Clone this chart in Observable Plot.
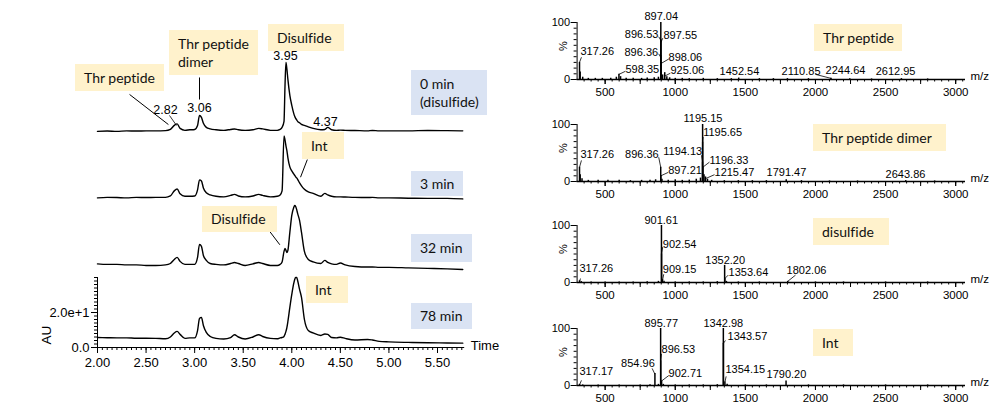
<!DOCTYPE html>
<html><head><meta charset="utf-8">
<script src="https://cdn.jsdelivr.net/npm/d3@7"></script>
<script src="https://cdn.jsdelivr.net/npm/@observablehq/plot@0.6"></script>
<style>
body{margin:0;background:#fff;}
#wrap{position:relative;width:990px;height:403px;overflow:hidden;}
.box{position:absolute;display:flex;align-items:center;box-sizing:border-box;padding-left:9px;font:14px Lato,sans-serif;color:#111;line-height:18px;white-space:pre-line;font-variant-ligatures:none;}
.beige{background:#FFF2CC;}
.blue{background:#DAE3F3;}
</style></head><body><div id="wrap"></div>
<script>
// ---------- Chromatogram data (retention time in min, absorbance in AU) ----------
const times = [2.00,2.10,2.20,2.30,2.40,2.50,2.60,2.70,2.75,2.79,2.82,2.85,2.90,2.95,3.00,3.03,3.05,3.07,3.09,3.12,3.16,3.22,3.30,3.37,3.41,3.45,3.52,3.60,3.66,3.70,3.78,3.85,3.88,3.90,3.92,3.93,3.94,3.95,3.96,3.98,4.00,4.02,4.03,4.04,4.05,4.06,4.08,4.10,4.13,4.17,4.22,4.30,4.34,4.37,4.41,4.46,4.50,4.55,4.65,4.78,4.83,4.90,5.00,5.20,5.40,5.60,5.76];
const au0min = [4.6,4.8,4.6,4.9,4.8,4.9,4.9,5.0, 5.7,8.0,8.9,6.3,5.2,5.5, 5.7,8.0,13.7,12.6,9.2,6.9,6.0,5.5, 5.2,5.7,6.0,5.5,5.2,5.5,6.3,6.0,5.2, 5.2,5.7,6.9,10.3,30.3,44.0,40.0,34.3,25.2, 19.5,14.9,13.2,12.0,11.2,10.3,9.5,8.6,8.0,7.2,6.3, 5.5,5.7,6.9,5.5,5.2,5.3,5.2,5.1,4.9,5.1,4.9, 4.9,4.9,5.1,5.0,4.9];
const au3min = [4.6,4.9,4.8,4.6,4.9,4.8,4.9,4.9, 5.7,8.6,9.7,6.9,5.5,5.5, 5.7,9.2,14.9,14.3,10.3,7.5,6.3,5.5, 5.2,6.0,6.6,5.7,5.2,5.7,6.6,6.0,5.2, 5.5,6.3,8.6,40.0,37.7,34.3,31.5,27.5,22.3, 20.0,18.3,17.5,16.6,16.0,15.2,13.2,11.5,9.5,8.0,7.2, 5.5,7.2,6.3,5.5,5.2,5.2,5.1,4.9,4.8,4.9,4.6, 4.6,4.4,4.3,4.3,4.0];
const au32min = [5.5,5.2,5.2,4.9,4.9,4.6,4.6,4.9, 5.7,8.0,9.2,6.9,5.2,5.2, 5.2,9.2,16.6,15.5,10.3,7.5,5.7,5.2, 4.9,5.7,6.3,5.7,4.6,5.5,6.3,5.7,4.6, 4.6,5.2,6.6,12.6,14.3,13.2,12.0,13.2,23.5, 33.2,37.7,38.9,38.3,36.6,34.3,30.3,23.5,12.6,8.0,6.6, 5.7,7.5,6.3,5.5,5.2,6.0,4.9,4.0,3.7,3.7,3.5, 3.5,3.2,2.9,2.6,2.3];
const au78min = [5.7,5.6,5.5,5.5,5.3,5.3,5.2,5.0, 6.0,8.3,9.2,7.5,5.2,5.5, 5.5,9.7,16.6,17.2,12.6,8.6,6.3,5.2, 4.9,5.7,7.3,6.0,4.9,6.0,7.3,6.3,5.2, 5.0,5.5,5.7,6.3,7.5,9.2,11.5,14.9,22.9, 30.3,36.6,38.9,40.0,40.0,38.3,33.2,28.6,16.0,9.7,8.3, 6.9,7.7,7.5,5.7,5.5,5.9,5.2,4.3,4.6,4.3,3.5, 3.2,2.9,2.7,2.6,2.5];
const traceNames = ["0 min", "3 min", "32 min", "78 min"];
const peakTimes = [2.82, 3.06, 3.95, 4.37];

// ---------- Mass spectra data (m/z, relative intensity %) ----------
const specThr = [[317.26,30],[322,13],[340,4],[380,2],[430,2],[480,2],[540,2],[580,4],[598.35,9],[610,5],[650,2],[700,2],[760,2],[800,2.5],[850,3],[880,4],[896.36,42],[896.53,70],[897.04,100],[897.55,68],[898.06,30],[910,8],[925.06,12],[940,5],[960,3],[1000,2],[1050,2],[1100,1.5],[1200,2],[1300,1.5],[1400,1.5],[1452.54,2.5],[1600,1.5],[1700,1.5],[1800,1.5],[1950,1.5],[2110.85,2],[2244.64,1.5],[2400,1],[2612.95,1.5],[2800,1]];
const specDimer = [[317.26,25],[322,12],[335,5],[380,2],[450,2],[520,2],[600,2],[680,1.5],[760,2],[820,2],[860,3],[896.36,25],[897.21,10],[905,4],[950,2],[1000,3],[1050,2],[1100,2.5],[1150,4],[1180,6],[1194.13,34],[1195.15,100],[1195.65,69],[1196.33,25],[1205,12],[1215.47,8],[1230,4],[1260,2],[1350,1.5],[1450,1.5],[1550,1.5],[1650,1.5],[1791.47,3],[1900,1.5],[2100,1],[2300,1],[2643.86,1.5],[2850,1]];
const specDisulfide = [[317.26,3],[330,1.5],[400,1],[500,1],[600,1],[700,1],[800,1.5],[880,2],[901.61,100],[902.54,50],[909.15,5],[920,2],[1000,1],[1100,1],[1200,1],[1300,1.5],[1352.20,30],[1353.64,7],[1365,2],[1450,1],[1600,1],[1802.06,2],[2000,1],[2200,1],[2500,1],[2800,1]];
const specInt = [[317.17,2],[340,1],[450,1],[600,1],[750,1],[820,1.5],[854.96,21],[880,2],[895.77,100],[896.53,43],[902.71,8],[915,2],[1000,1],[1100,1],[1200,1],[1300,1.5],[1342.98,100],[1343.57,74],[1354.15,6],[1370,2],[1500,1],[1650,1],[1790.20,8],[1950,1],[2200,1],[2500,1],[2800,1]];
const specNames = ["Thr peptide", "Thr peptide dimer", "disulfide", "Int"];

// ---------- Annotation layout (label positions in data units) ----------
// [peak m/z, peak %, label x (m/z), label y (%), anchor, leader start x, leader start y]
const annThr = [[897.04,100,900,111,"middle"],[896.53,69,880,79.5,"end",882,75],[897.55,65,916,78,"start",911,72.5],[896.36,39,878,48,"end",882,45],[898.06,28,952,39,"start",954,36],[317.26,30,324,50,"start",331,39],[598.35,9,645,17.5,"start",645,14.5],[925.06,6,966,16,"start",965,11],[1452.54,2.5,1458,14.5,"middle"],[2110.85,2,1897,14,"middle",2000,9],[2244.64,1.5,2214,16,"middle"],[2612.95,1.5,2571,14,"middle"]];
const annDimer = [[1195.15,100,1198,111,"middle"],[1195.65,69,1199,86,"start",1199,78],[1194.13,34,1192,53.5,"end",1187,46],[1196.33,25,1244,37.5,"start",1244,34],[896.36,25,882,47.5,"end",882,42.5],[897.21,10,950,19.5,"start",950,16],[1215.47,5,1280,15,"start",1280,12],[317.26,25,324,47.5,"start",331,37],[1791.47,3,1793,16,"middle"],[2643.86,1.5,2642,12.5,"middle"]];
const annDisulfide = [[901.61,100,900,108,"middle"],[902.54,50,911,67.5,"start",911,62.5],[909.15,4,911,23.5,"start",918,14.5],[317.26,1,317,25,"start",324,7],[1352.20,30,1356,39,"middle"],[1353.64,7,1380,17,"start",1378,13],[1802.06,2,1936,21.5,"middle",1858,13]];
const annInt = [[895.77,100,900,109,"middle"],[1342.98,100,1343,109,"middle"],[896.53,43,902,64,"start",902,55.5],[854.96,20,854,39.5,"end",835,30],[902.71,8,952,21,"start",954,17.5],[317.17,1,317,24,"start",331,9],[1343.57,74,1373,86,"start",1358,79],[1354.15,6,1358,28,"start",1363,16],[1790.20,8,1793,19.5,"middle"]];

const wrap = document.getElementById("wrap");
const FONT = '"Liberation Sans", Arial, sans-serif';

function place(node, left, top) {
  node.style.position = "absolute";
  node.style.left = left + "px";
  node.style.top = top + "px";
  wrap.appendChild(node);
}

// ---------- Left: stacked chromatograms ----------
const traceOffsets = {"0 min": 118.9, "3 min": 80.9, "32 min": 42.3, "78 min": 0};
const traceValues = [au0min, au3min, au32min, au78min];
const chrom = [];
traceNames.forEach((n, i) => times.forEach((t, j) => chrom.push({trace: n, t, au: traceValues[i][j]})));

const arrows = [
  {x1: 2.33, y1: 144.6, x2: 2.73, y2: 127.4},
  {x1: 3.05, y1: 154.3, x2: 3.05, y2: 141.7},
  {x1: 4.16, y1: 107.4, x2: 4.09, y2: 97.3},
  {x1: 3.75, y1: 68.0, x2: 3.877, y2: 58.7}
];
const peakLabelPos = [[2.70, 136], [3.05, 137.1], [3.935, 166.3], [4.347, 129.1]];
const peakLabels = peakTimes.map((t, i) => ({text: t.toFixed(2), x: peakLabelPos[i][0], y: peakLabelPos[i][1]}));

const left = Plot.plot({
  width: 540, height: 403,
  marginLeft: 97, marginRight: 75.8, marginTop: 4, marginBottom: 56,
  style: {fontFamily: FONT, fontSize: "13px", color: "#000", background: "transparent", overflow: "visible"},
  x: {domain: [2, 5.78]},
  y: {domain: [0, 196]},
  marks: [
    Plot.ruleX([2], {y1: 0, y2: 40, stroke: "#000"}),
    Plot.ruleY([0], {x1: 2, x2: 5.78, stroke: "#000"}),
    Plot.axisX({ticks: d3.range(0, 76).map(i => 2 + i * 0.05), tickSize: 3, text: null, label: null}),
    Plot.axisX({ticks: [2, 2.5, 3, 3.5, 4, 4.5, 5, 5.5], tickSize: 6, tickPadding: 4, tickFormat: d3.format(".2f"), label: null, fontSize: 13}),
    Plot.axisY({ticks: d3.range(0, 41, 2), tickSize: 3, text: null, label: null}),
    Plot.axisY({ticks: [0, 20], tickSize: 6, tickPadding: 2, tickFormat: d => d === 0 ? "0.0" : "2.0e+1", label: null, fontSize: 13}),
    Plot.line(chrom, {x: "t", y: d => d.au + traceOffsets[d.trace], z: "trace", stroke: "#000", strokeWidth: 1.4, curve: "monotone-x"}),
    Plot.link(arrows, {x1: "x1", y1: "y1", x2: "x2", y2: "y2", stroke: "#000", strokeWidth: 1, ariaLabel: "arrow"}),
    Plot.link([{x1: 2.741, y1: 132.6, x2: 2.813, y2: 126.9}], {x1: "x1", y1: "y1", x2: "x2", y2: "y2", stroke: "#000", strokeWidth: 0.8}),
    Plot.text(peakLabels, {x: "x", y: "y", text: "text", fontSize: 12.5, fill: "#000"}),
    Plot.text(["Time"], {frameAnchor: "bottom-right", dx: 6, dy: 2, textAnchor: "start", fontSize: 13, fill: "#000"}),
    Plot.text(["AU"], {frameAnchor: "bottom-left", dx: -47, dy: -3, rotate: -90, fontSize: 13.5, fill: "#000"})
  ]
});
{
  const svg = d3.select(left);
  const m = svg.append("defs").append("marker")
    .attr("id", "ahead").attr("viewBox", "0 0 10 10").attr("refX", 10).attr("refY", 5)
    .attr("markerWidth", 8).attr("markerHeight", 8).attr("markerUnits", "userSpaceOnUse").attr("orient", "auto");
  m.append("path").attr("d", "M0,0L10,5L0,10Z").attr("fill", "#000");
  svg.selectAll('g[aria-label="arrow"] path').attr("marker-end", "url(#ahead)");
}
place(left, 0, 0);

// ---------- Right: mass spectra ----------
function spectrum(sticksArr, annArr) {
  const sticks = sticksArr.map(([mz, pct]) => ({mz, pct}));
  const ann = annArr.map(a => ({mz: a[0], pct: a[1], tx: a[2], ty: a[3], anchor: a[4], lx: a[5], ly: a[6], text: a[0].toFixed(2)}));
  const leaders = ann.filter(a => a.lx !== undefined);
  return Plot.plot({
    width: 470, height: 100,
    marginLeft: 56.6, marginRight: 25, marginTop: 9, marginBottom: 34,
    style: {fontFamily: FONT, fontSize: "11px", color: "#000", background: "transparent", overflow: "visible"},
    x: {domain: [300, 3070]},
    y: {domain: [0, 100]},
    marks: [
      Plot.ruleX(sticks, {x: "mz", y1: 0, y2: "pct", stroke: "#000", strokeWidth: 1.5}),
      Plot.ruleX([300], {y1: 0, y2: 100, stroke: "#000"}),
      Plot.ruleY([0], {x1: 300, x2: 3070, stroke: "#000", strokeWidth: 1.3}),
      Plot.axisY({ticks: d3.range(0, 101, 10), tickSize: 3, text: null, label: null}),
      Plot.axisY({ticks: [0, 100], tickSize: 6, tickPadding: 1, tickFormat: d => String(d), label: null, fontSize: 11}),
      Plot.axisX({ticks: d3.range(350, 3051, 50), tickSize: 2.5, text: null, label: null}),
      Plot.axisX({ticks: d3.range(500, 3001, 250), tickSize: 5, text: null, label: null}),
      Plot.axisX({ticks: d3.range(500, 3001, 500), tickSize: 5, tickPadding: 3, tickFormat: d => String(d), label: null, fontSize: 11.5}),
      Plot.link(leaders, {x1: "lx", y1: "ly", x2: "mz", y2: "pct", stroke: "#000", strokeWidth: 0.8}),
      Plot.text(ann.filter(a => a.anchor === "middle"), {x: "tx", y: "ty", text: "text", textAnchor: "middle", fontSize: 11, fill: "#000"}),
      Plot.text(ann.filter(a => a.anchor === "start"), {x: "tx", y: "ty", text: "text", textAnchor: "start", fontSize: 11, fill: "#000"}),
      Plot.text(ann.filter(a => a.anchor === "end"), {x: "tx", y: "ty", text: "text", textAnchor: "end", fontSize: 11, fill: "#000"}),
      Plot.text(["m/z"], {frameAnchor: "bottom-right", dx: 5, textAnchor: "start", fontSize: 11.5, fill: "#000"}),
      Plot.text(["%"], {frameAnchor: "left", dx: -14, rotate: -90, fontSize: 11, fill: "#000"})
    ]
  });
}
const specs = [[specThr, annThr, 13], [specDimer, annDimer, 115], [specDisulfide, annDisulfide, 216], [specInt, annInt, 319]];
specs.forEach(([s, a, top]) => place(spectrum(s, a), 520, top));

// ---------- Label boxes ----------
const boxes = [
  {text: "Thr peptide", cls: "beige", x: 75, y: 64, w: 89, h: 27},
  {text: "Thr peptide\ndimer", cls: "beige", x: 169, y: 30, w: 89, h: 45},
  {text: "Disulfide", cls: "beige", x: 268, y: 24, w: 76, h: 27},
  {text: traceNames[0] + "\n(disulfide)", cls: "blue", x: 411, y: 70, w: 76, h: 45},
  {text: "Int", cls: "beige", x: 302, y: 132, w: 42, h: 27},
  {text: traceNames[1], cls: "blue", x: 411, y: 171, w: 52, h: 25},
  {text: "Disulfide", cls: "beige", x: 202, y: 206, w: 75, h: 26},
  {text: traceNames[2], cls: "blue", x: 411, y: 234, w: 61, h: 28},
  {text: "Int", cls: "beige", x: 306, y: 276, w: 42, h: 27},
  {text: traceNames[3], cls: "blue", x: 411, y: 303, w: 61, h: 26},
  {text: specNames[0], cls: "beige", x: 814, y: 24, w: 88, h: 27},
  {text: specNames[1], cls: "beige", x: 813, y: 124, w: 133, h: 27},
  {text: specNames[2], cls: "beige", x: 813, y: 218, w: 76, h: 27},
  {text: specNames[3], cls: "beige", x: 813, y: 329, w: 40, h: 27}
];
boxes.forEach(b => {
  const d = document.createElement("div");
  d.className = "box " + b.cls;
  d.style.width = b.w + "px";
  d.style.height = b.h + "px";
  d.textContent = b.text;
  place(d, b.x, b.y);
});
</script>
</body></html>
